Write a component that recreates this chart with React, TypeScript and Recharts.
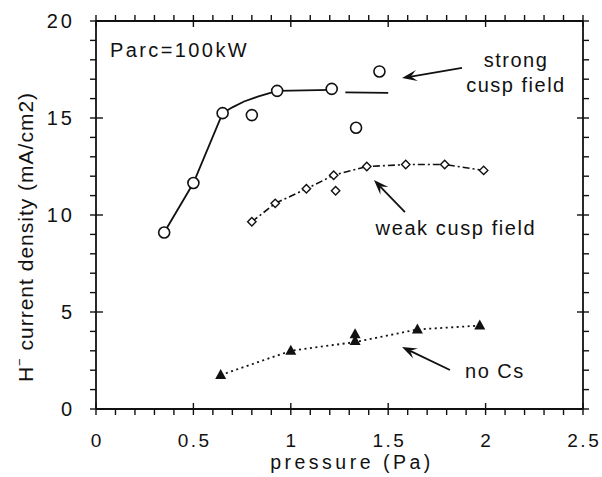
import React from "react";
import {
  ComposedChart,
  Line,
  Scatter,
  XAxis,
  YAxis,
  ReferenceLine,
  ReferenceDot,
} from "recharts";

// ---------- data ----------
const strongX = [0.35, 0.5, 0.65, 0.8, 0.93, 1.21, 1.335, 1.455];
const strongY = [9.1, 11.65, 15.25, 15.15, 16.4, 16.5, 14.5, 17.4];
// hand-drawn fit line (gap after 1.21)
const strongFitX = [0.35, 0.5, 0.65, 0.7, 0.76, 0.83, 0.93, 1.21, 1.25, 1.28, 1.5];
const strongFitY: (number | null)[] = [9.1, 11.65, 15.25, 15.55, 15.85, 16.1, 16.4, 16.45, null, 16.32, 16.3];

const weakX = [0.8, 0.92, 1.08, 1.22, 1.23, 1.39, 1.59, 1.79, 1.99];
const weakY = [9.65, 10.6, 11.35, 12.05, 11.25, 12.5, 12.6, 12.6, 12.3];
const weakLineX = [0.8, 0.92, 1.08, 1.22, 1.39, 1.59, 1.79, 1.99];
const weakLineY = [9.65, 10.6, 11.35, 12.05, 12.5, 12.6, 12.6, 12.3];

const noCsX = [0.64, 1.0, 1.33, 1.33, 1.65, 1.97];
const noCsY = [1.75, 3.0, 3.85, 3.5, 4.1, 4.3];
const noCsLineX = [0.64, 1.0, 1.33, 1.65, 1.97];
const noCsLineY = [1.75, 3.0, 3.45, 4.1, 4.3];

const xMajorTicks = [0, 0.5, 1, 1.5, 2, 2.5];
const xTickLabels = ["0", "0.5", "1", "1.5", "2", "2.5"];
const yMajorTicks = [0, 5, 10, 15, 20];
const yTickLabels = ["0", "5", "10", "15", "20"];

const xAllTicks: number[] = [];
for (let i = 0; i <= 25; i++) xAllTicks.push(i / 10);
const yAllTicks: number[] = [];
for (let i = 0; i <= 20; i++) yAllTicks.push(i);

// annotations (data coordinates)
const texts = [
  { x: 0.072, y: 18.15, text: "Parc=100kW", anchor: "start", spacing: 2.4 },
  { x: 2.156, y: 17.63, text: "strong", anchor: "middle", spacing: 1.5 },
  { x: 2.156, y: 16.34, text: "cusp field", anchor: "middle", spacing: 1.5 },
  { x: 1.848, y: 8.97, text: "weak cusp field", anchor: "middle", spacing: 1.6 },
  { x: 2.048, y: 1.6, text: "no Cs", anchor: "middle", spacing: 1.5 },
];
const arrows = [
  { from: { x: 1.879, y: 17.58 }, to: { x: 1.571, y: 17.06 } },
  { from: { x: 1.586, y: 10.15 }, to: { x: 1.427, y: 11.8 } },
  { from: { x: 1.817, y: 2.01 }, to: { x: 1.571, y: 3.2 } },
];

// ---------- style ----------
const INK = "#111";
const FONT = "'Liberation Sans', Arial, Helvetica, sans-serif";

const toPts = (xs: number[], ys: (number | null)[]) =>
  xs.map((x, i) => ({ x, y: ys[i] }));

const strongPts = toPts(strongX, strongY);
const strongFit = toPts(strongFitX, strongFitY);
const weakPts = toPts(weakX, weakY);
const weakLine = toPts(weakLineX, weakLineY);
const noCsPts = toPts(noCsX, noCsY);
const noCsLine = toPts(noCsLineX, noCsLineY);

const majorIndex = (v: number, list: number[]) =>
  list.findIndex((t) => Math.abs(t - v) < 1e-6);

function BottomTick(props: any) {
  const { x, y, payload } = props;
  const idx = majorIndex(payload.value, xMajorTicks);
  const major = idx >= 0;
  return (
    <g>
      <line x1={x} x2={x} y1={y} y2={y - (major ? 12 : 6)} stroke={INK} strokeWidth={1.4} />
      {major && (
        <text
          x={x + 1.25}
          y={y + 32}
          textAnchor="middle"
          fontSize={19}
          letterSpacing={2.5}
          fill={INK}
          fontFamily={FONT}
        >
          {xTickLabels[idx]}
        </text>
      )}
    </g>
  );
}

function TopTick(props: any) {
  const { x, y, payload } = props;
  const major = majorIndex(payload.value, xMajorTicks) >= 0;
  return <line x1={x} x2={x} y1={y} y2={y + (major ? 12 : 5)} stroke={INK} strokeWidth={1.4} />;
}

function LeftTick(props: any) {
  const { x, y, payload } = props;
  const idx = majorIndex(payload.value, yMajorTicks);
  const major = idx >= 0;
  return (
    <g>
      <line x1={x} x2={x + (major ? 13 : 6)} y1={y} y2={y} stroke={INK} strokeWidth={1.4} />
      {major && (
        <text
          x={x - 15}
          y={y + 7}
          textAnchor="end"
          fontSize={20}
          letterSpacing={3}
          fill={INK}
          fontFamily={FONT}
        >
          {yTickLabels[idx]}
        </text>
      )}
    </g>
  );
}

function RightTick(props: any) {
  const { x, y, payload } = props;
  const major = majorIndex(payload.value, yMajorTicks) >= 0;
  return <line x1={x} x2={x - (major ? 12 : 6)} y1={y} y2={y} stroke={INK} strokeWidth={1.4} />;
}

function Arrow(p: any) {
  const { x1, y1, x2, y2 } = p;
  const dx = x2 - x1;
  const dy = y2 - y1;
  const L = Math.hypot(dx, dy) || 1;
  const ux = dx / L;
  const uy = dy / L;
  const nx = -uy;
  const ny = ux;
  const hl = 15;
  const hw = 5.5;
  const bx = x2 - ux * hl;
  const by = y2 - uy * hl;
  const mx = x2 - ux * hl * 0.6;
  const my = y2 - uy * hl * 0.6;
  return (
    <g>
      <line x1={x1} y1={y1} x2={mx} y2={my} stroke={INK} strokeWidth={1.8} />
      <polygon
        points={`${x2},${y2} ${bx + nx * hw},${by + ny * hw} ${mx},${my} ${bx - nx * hw},${by - ny * hw}`}
        fill={INK}
      />
    </g>
  );
}

const XLabel = () => (
  <text
    x={352}
    y={469}
    textAnchor="middle"
    fontSize={19.5}
    letterSpacing={3.5}
    fill={INK}
    fontFamily={FONT}
  >
    pressure (Pa)
  </text>
);

const YLabel = () => (
  <text
    transform="translate(33, 237) rotate(-90)"
    textAnchor="middle"
    fontSize={21}
    letterSpacing={1}
    fill={INK}
    fontFamily={FONT}
  >
    H
    <tspan dy={-9} fontSize={13}>
      −
    </tspan>
    <tspan dy={9}> current density (mA/cm2)</tspan>
  </text>
);

const circleShape = (p: any) => (
  <circle cx={p.cx} cy={p.cy} r={5.5} fill="#fff" stroke={INK} strokeWidth={1.6} />
);
const diamondShape = (p: any) => {
  const s = 4.2;
  return (
    <polygon
      points={`${p.cx},${p.cy - s} ${p.cx + s},${p.cy} ${p.cx},${p.cy + s} ${p.cx - s},${p.cy}`}
      fill="#fff"
      stroke={INK}
      strokeWidth={1.4}
    />
  );
};
const triangleShape = (p: any) => (
  <polygon
    points={`${p.cx},${p.cy - 6} ${p.cx + 5.5},${p.cy + 4} ${p.cx - 5.5},${p.cy + 4}`}
    fill={INK}
  />
);

export default function App() {
  return (
    <div
      style={{
        position: "fixed",
        left: 0,
        top: 0,
        width: 602,
        height: 477,
        overflow: "hidden",
        background: "#fff",
      }}
    >
      <ComposedChart width={602} height={477} margin={{ top: 20, right: 18, bottom: 0, left: 0 }}>
        <XAxis
          xAxisId="b"
          type="number"
          dataKey="x"
          domain={[0, 2.5]}
          ticks={xAllTicks}
          interval={0}
          tick={(p: any) => <BottomTick {...p} />}
          tickLine={false}
          tickMargin={0}
          height={68}
          axisLine={{ stroke: INK, strokeWidth: 1.8 }}
          allowDataOverflow
          label={XLabel}
        />
        <XAxis
          xAxisId="t"
          orientation="top"
          type="number"
          dataKey="x"
          domain={[0, 2.5]}
          ticks={xAllTicks}
          interval={0}
          tick={(p: any) => <TopTick {...p} />}
          tickLine={false}
          tickMargin={0}
          height={1}
          axisLine={{ stroke: INK, strokeWidth: 1.8 }}
          allowDataOverflow
        />
        <YAxis
          yAxisId="l"
          type="number"
          dataKey="y"
          domain={[0, 20]}
          ticks={yAllTicks}
          interval={0}
          tick={(p: any) => <LeftTick {...p} />}
          tickLine={false}
          tickMargin={0}
          width={96}
          axisLine={{ stroke: INK, strokeWidth: 1.8 }}
          allowDataOverflow
          label={YLabel}
        />
        <YAxis
          yAxisId="r"
          orientation="right"
          type="number"
          dataKey="y"
          domain={[0, 20]}
          ticks={yAllTicks}
          interval={0}
          tick={(p: any) => <RightTick {...p} />}
          tickLine={false}
          tickMargin={0}
          width={1}
          axisLine={{ stroke: INK, strokeWidth: 1.8 }}
          allowDataOverflow
        />

        <Line
          xAxisId="b"
          yAxisId="l"
          data={strongFit}
          dataKey="y"
          type="linear"
          stroke={INK}
          strokeWidth={1.8}
          dot={false}
          activeDot={false}
          isAnimationActive={false}
        />
        <Line
          xAxisId="b"
          yAxisId="l"
          data={weakLine}
          dataKey="y"
          type="linear"
          stroke={INK}
          strokeWidth={1.6}
          strokeDasharray="7 3 2 3"
          dot={false}
          activeDot={false}
          isAnimationActive={false}
        />
        <Line
          xAxisId="b"
          yAxisId="l"
          data={noCsLine}
          dataKey="y"
          type="linear"
          stroke={INK}
          strokeWidth={1.8}
          strokeDasharray="2 3.5"
          dot={false}
          activeDot={false}
          isAnimationActive={false}
        />

        <Scatter xAxisId="b" yAxisId="l" data={strongPts} dataKey="y" shape={circleShape} isAnimationActive={false} />
        <Scatter xAxisId="b" yAxisId="l" data={weakPts} dataKey="y" shape={diamondShape} isAnimationActive={false} />
        <Scatter xAxisId="b" yAxisId="l" data={noCsPts} dataKey="y" shape={triangleShape} isAnimationActive={false} />

        {arrows.map((a, i) => (
          <ReferenceLine
            key={`arr${i}`}
            xAxisId="b"
            yAxisId="l"
            segment={[a.from, a.to]}
            shape={Arrow}
          />
        ))}
        {texts.map((t, i) => (
          <ReferenceDot
            key={`txt${i}`}
            xAxisId="b"
            yAxisId="l"
            x={t.x}
            y={t.y}
            r={0}
            shape={(p: any) => (
              <text
                x={p.cx}
                y={p.cy}
                textAnchor={t.anchor as any}
                fontSize={20}
                letterSpacing={t.spacing}
                fill={INK}
                fontFamily={FONT}
              >
                {t.text}
              </text>
            )}
          />
        ))}
      </ComposedChart>
    </div>
  );
}
